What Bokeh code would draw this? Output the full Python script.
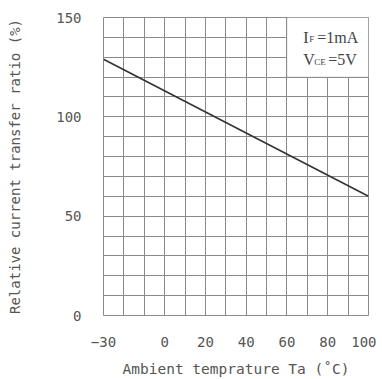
from bokeh.plotting import figure
from bokeh.models import FixedTicker, BoxAnnotation, Label
from bokeh.embed import file_html
from bokeh.resources import INLINE

# Data
temperature = [-30, 100]
ctr_relative = [129, 60]

x_ticks = [-30, 0, 20, 40, 60, 80, 100]
y_ticks = [0, 50, 100, 150]
x_grid = list(range(-30, 101, 10))
y_grid = list(range(0, 151, 10))

GRID = "#8a8a8a"
TEXT = "#555555"
MONO = "DejaVu Sans Mono"

p = figure(width=376, height=379, x_range=(-30, 100), y_range=(0, 150),
           output_backend="svg", toolbar_location=None,
           min_border_left=103, min_border_right=8, min_border_top=17, min_border_bottom=60)
p.background_fill_color = "white"
p.border_fill_color = "white"
p.outline_line_color = GRID
p.outline_line_width = 1

p.xgrid.ticker = FixedTicker(ticks=x_grid)
p.ygrid.ticker = FixedTicker(ticks=y_grid)
for g in (p.xgrid, p.ygrid):
    g.grid_line_color = GRID
    g.grid_line_width = 1

p.xaxis.ticker = FixedTicker(ticks=x_ticks)
p.yaxis.ticker = FixedTicker(ticks=y_ticks)
for ax in (p.xaxis, p.yaxis):
    ax.axis_line_color = None
    ax.major_tick_line_color = None
    ax.minor_tick_line_color = None
    ax.major_label_text_font = MONO
    ax.major_label_text_font_size = "14px"
    ax.major_label_text_color = TEXT
    ax.axis_label_text_font = MONO
    ax.axis_label_text_font_style = "normal"
    ax.axis_label_text_color = TEXT

p.xaxis.axis_label = "Ambient temprature Ta (\u02daC)"
p.xaxis.axis_label_text_font_size = "14.5px"
p.xaxis.major_label_standoff = 15
p.xaxis.axis_label_standoff = 11

p.yaxis.axis_label = "Relative current transfer ratio (%)"
p.yaxis.axis_label_text_font_size = "14px"
p.yaxis.major_label_standoff = 16
p.yaxis.axis_label_standoff = 30

p.line(temperature, ctr_relative, line_color="#333333", line_width=1.6)

# condition box
box = BoxAnnotation(left=60, right=100, bottom=120, top=150,
                    fill_color="white", fill_alpha=1.0,
                    line_color=GRID, line_width=1)
p.add_layout(box)

SERIF = "Liberation Serif"
legend_x = 68
line1_y = 140
line2_y = 128.7
common = dict(text_font=SERIF, text_color="#444444", text_baseline="middle")
p.add_layout(Label(x=legend_x, y=line1_y, text="I", text_font_size="16px", **common))
p.add_layout(Label(x=legend_x, y=line1_y, x_offset=6, y_offset=-2, text="F",
                   text_font_size="9px", **common))
p.add_layout(Label(x=legend_x, y=line1_y, x_offset=14, text="=1mA",
                   text_font_size="16px", **common))
p.add_layout(Label(x=legend_x, y=line2_y, text="V", text_font_size="16px", **common))
p.add_layout(Label(x=legend_x, y=line2_y, x_offset=11, y_offset=-2, text="CE",
                   text_font_size="9px", **common))
p.add_layout(Label(x=legend_x, y=line2_y, x_offset=25, text="=5V",
                   text_font_size="16px", **common))

open("out.html", "w").write(file_html(p, INLINE))
